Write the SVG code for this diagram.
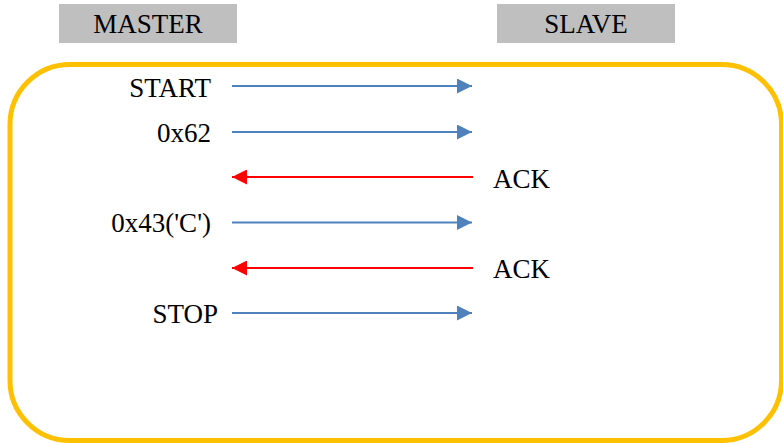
<svg xmlns="http://www.w3.org/2000/svg" width="783" height="443" viewBox="0 0 783 443">
  <style>
    .lbl { font-family: "Liberation Serif", "Times New Roman", serif; font-size: 27px; fill: #000; }
    .hdr { fill: #BFBFBF; }
    .fwd { stroke: #4F81BD; stroke-width: 2; fill: none; }
    .ack { stroke: #FF0000; stroke-width: 2; fill: none; }
  </style>
  <defs>
    <marker id="headBlue" viewBox="0 0 15 15" refX="15" refY="7.5" markerWidth="15" markerHeight="15" markerUnits="userSpaceOnUse" orient="auto">
      <path d="M0,0 L15,7.5 L0,15 Z" fill="#4F81BD"/>
    </marker>
    <marker id="headRed" viewBox="0 0 15 15" refX="15" refY="7.5" markerWidth="15" markerHeight="15" markerUnits="userSpaceOnUse" orient="auto">
      <path d="M0,0 L15,7.5 L0,15 Z" fill="#FF0000"/>
    </marker>
  </defs>

  <!-- participants -->
  <g id="master">
    <rect class="hdr" x="59" y="4" width="178" height="39"/>
    <text class="lbl" x="148" y="33" text-anchor="middle">MASTER</text>
  </g>
  <g id="slave">
    <rect class="hdr" x="497" y="4" width="178" height="39"/>
    <text class="lbl" x="586" y="33" text-anchor="middle">SLAVE</text>
  </g>

  <!-- session frame -->
  <g id="frame">
    <rect x="10" y="64.5" width="771.5" height="376" rx="60" ry="60" fill="none" stroke="#FFC000" stroke-width="5"/>
  </g>

  <!-- message labels -->
  <g id="msg-start"><text class="lbl" x="211" y="97" text-anchor="end">START</text></g>
  <g id="msg-addr"><text class="lbl" x="211" y="142" text-anchor="end">0x62</text></g>
  <g id="msg-ack1"><text class="lbl" x="493" y="188">ACK</text></g>
  <g id="msg-data"><text class="lbl" x="211" y="232" text-anchor="end">0x43('C')</text></g>
  <g id="msg-ack2"><text class="lbl" x="493" y="278">ACK</text></g>
  <g id="msg-stop"><text class="lbl" x="218" y="323" text-anchor="end">STOP</text></g>

  <!-- connectors -->
  <g id="connectors">
    <line class="fwd" x1="232" y1="86" x2="472" y2="86" marker-end="url(#headBlue)"/>
    <line class="fwd" x1="232" y1="132" x2="472" y2="132" marker-end="url(#headBlue)"/>
    <line class="ack" x1="473" y1="177" x2="232" y2="177" marker-end="url(#headRed)"/>
    <line class="fwd" x1="232" y1="222.5" x2="472" y2="222.5" marker-end="url(#headBlue)"/>
    <line class="ack" x1="473" y1="268" x2="232" y2="268" marker-end="url(#headRed)"/>
    <line class="fwd" x1="232" y1="313" x2="472" y2="313" marker-end="url(#headBlue)"/>
  </g>
</svg>
